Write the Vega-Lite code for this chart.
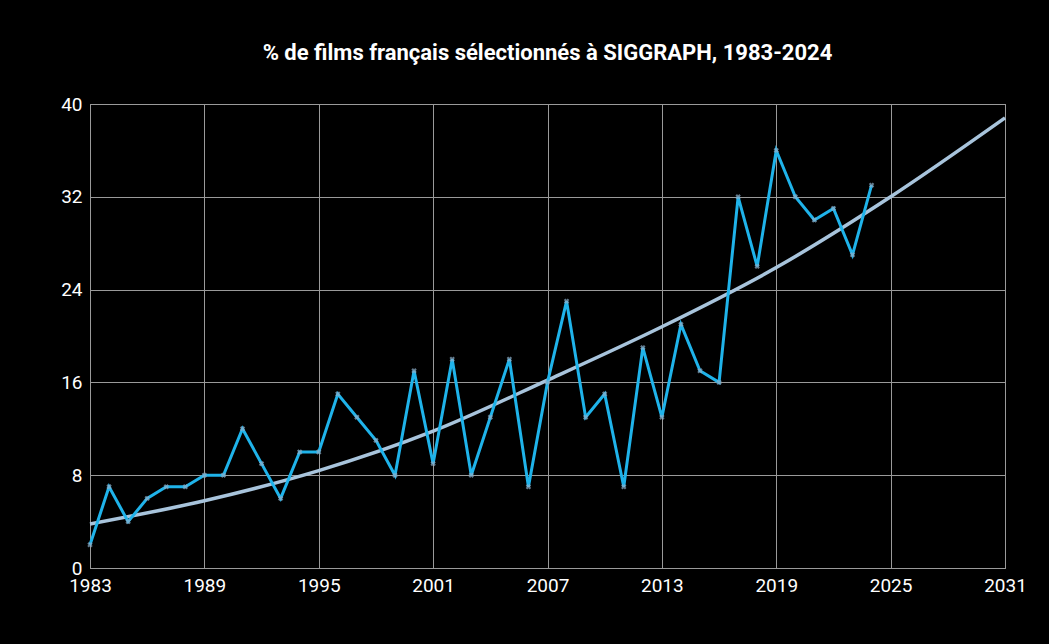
{
  "$schema": "https://vega.github.io/schema/vega-lite/v6.json",
  "width": 915,
  "height": 464,
  "autosize": "none",
  "padding": {"left": 90, "top": 104, "right": 44, "bottom": 76},
  "background": "#000000",
  "title": {
    "text": "% de films français sélectionnés à SIGGRAPH, 1983-2024",
    "color": "white",
    "font": "Roboto",
    "fontSize": 22,
    "fontWeight": "bold",
    "offset": 30
  },
  "datasets": {
    "films": [
      {"year": 1983, "pct": 2}, {"year": 1984, "pct": 7}, {"year": 1985, "pct": 4},
      {"year": 1986, "pct": 6}, {"year": 1987, "pct": 7}, {"year": 1988, "pct": 7},
      {"year": 1989, "pct": 8}, {"year": 1990, "pct": 8}, {"year": 1991, "pct": 12},
      {"year": 1992, "pct": 9}, {"year": 1993, "pct": 6}, {"year": 1994, "pct": 10},
      {"year": 1995, "pct": 10}, {"year": 1996, "pct": 15}, {"year": 1997, "pct": 13},
      {"year": 1998, "pct": 11}, {"year": 1999, "pct": 8}, {"year": 2000, "pct": 17},
      {"year": 2001, "pct": 9}, {"year": 2002, "pct": 18}, {"year": 2003, "pct": 8},
      {"year": 2004, "pct": 13}, {"year": 2005, "pct": 18}, {"year": 2006, "pct": 7},
      {"year": 2007, "pct": 16}, {"year": 2008, "pct": 23}, {"year": 2009, "pct": 13},
      {"year": 2010, "pct": 15}, {"year": 2011, "pct": 7}, {"year": 2012, "pct": 19},
      {"year": 2013, "pct": 13}, {"year": 2014, "pct": 21}, {"year": 2015, "pct": 17},
      {"year": 2016, "pct": 16}, {"year": 2017, "pct": 32}, {"year": 2018, "pct": 26},
      {"year": 2019, "pct": 36}, {"year": 2020, "pct": 32}, {"year": 2021, "pct": 30},
      {"year": 2022, "pct": 31}, {"year": 2023, "pct": 27}, {"year": 2024, "pct": 33}
    ],
    "trend": [
      {"year": 1983, "pct": 3.8}, {"year": 1989, "pct": 5.8}, {"year": 1995, "pct": 8.4},
      {"year": 2001, "pct": 11.8}, {"year": 2007, "pct": 16.2}, {"year": 2013, "pct": 20.8},
      {"year": 2019, "pct": 25.9}, {"year": 2025, "pct": 32}, {"year": 2031, "pct": 38.8}
    ]
  },
  "encoding": {
    "x": {
      "field": "year", "type": "quantitative",
      "scale": {"domain": [1983, 2031], "nice": false, "zero": false},
      "axis": {"values": [1983, 1989, 1995, 2001, 2007, 2013, 2019, 2025, 2031], "format": "d", "title": null, "labelFlush": false}
    },
    "y": {
      "field": "pct", "type": "quantitative",
      "scale": {"domain": [0, 40], "nice": false},
      "axis": {"values": [0, 8, 16, 24, 32, 40], "title": null}
    }
  },
  "layer": [
    {
      "data": {"name": "trend"},
      "mark": {"type": "line", "color": "#a8c4dc", "strokeWidth": 3.5, "interpolate": "monotone"}
    },
    {
      "data": {"name": "films"},
      "mark": {"type": "line", "color": "#1fb3ea", "strokeWidth": 3}
    },
    {
      "data": {"name": "films"},
      "mark": {"type": "point", "shape": "cross", "angle": 45, "size": 30, "filled": true, "color": "#8fb0cc"}
    }
  ],
  "config": {
    "view": {"stroke": "#bbbbbb"},
    "axis": {
      "labelColor": "white",
      "labelFont": "Roboto",
      "labelFontSize": 19,
      "gridColor": "#9a9a9a",
      "gridWidth": 1,
      "domain": false,
      "ticks": false,
      "labelPadding": 8
    }
  }
}
